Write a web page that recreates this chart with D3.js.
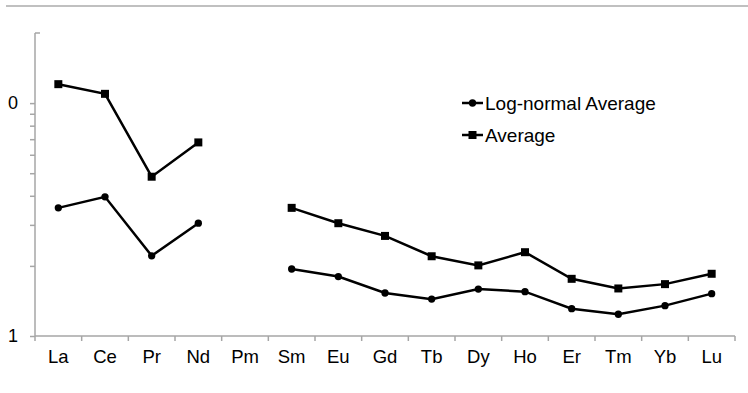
<!DOCTYPE html>
<html>
<head>
<meta charset="utf-8">
<script src="https://cdn.jsdelivr.net/npm/d3@7"></script>
<style>
  body { margin: 0; background: #fff; }
  text { font-family: "Liberation Sans", Arial, sans-serif; fill: #000; }
</style>
</head>
<body>
<svg id="chart" width="748" height="393"></svg>
<script>
// element categories (Pm has no data)
const elements = ['La', 'Ce', 'Pr', 'Nd', 'Pm', 'Sm', 'Eu', 'Gd', 'Tb', 'Dy', 'Ho', 'Er', 'Tm', 'Yb', 'Lu']
const average = [12.06, 10.96, 4.83, 6.78, null, 3.55, 3.05, 2.69, 2.20, 2.01, 2.29, 1.76, 1.60, 1.67, 1.85]
const logNormalAverage = [3.55, 3.96, 2.21, 3.05, null, 1.94, 1.80, 1.53, 1.44, 1.59, 1.55, 1.31, 1.24, 1.35, 1.52]
const yMinorTicks = [1, 2, 3, 4, 5, 6, 7, 8, 9, 10]
const yLabelValues = [1, 10]
const yLabelTexts = ['1', '0']
const seriesNames = ['Log-normal Average', 'Average']

const svg = d3.select('#chart')
const axisColor = '#a6a6a6'

// thin rule across the top
svg.append('line')
  .attr('x1', 6).attr('x2', 748).attr('y1', 6).attr('y2', 6)
  .attr('stroke', '#c0c0c0').attr('stroke-width', 2)

const x = d3.scaleBand().domain(elements).range([35, 735])
const y = d3.scaleLog().domain([1, 20]).range([336, 33])

// y axis (log, minor ticks, custom labels)
let yAxis = d3.axisLeft(y).tickValues(yMinorTicks).tickSize(5).tickFormat('')
let gy = svg.append('g').attr('transform', 'translate(35,0)').call(yAxis)
gy.select('.domain').attr('stroke', axisColor).attr('stroke-width', 1.5)
  .attr('d', `M0,${y(20)}V${y(1)}`)
gy.selectAll('.tick line').attr('stroke', axisColor).attr('stroke-width', 1.5)
svg.append('line')
  .attr('x1', 35).attr('x2', 40).attr('y1', y(20)).attr('y2', y(20))
  .attr('stroke', axisColor).attr('stroke-width', 1.5)

svg.selectAll('.ylab')
  .data(yLabelValues)
  .enter().append('text')
  .attr('class', 'ylab')
  .attr('x', 18)
  .attr('y', d => y(d))
  .attr('dy', '0.35em')
  .attr('text-anchor', 'end')
  .style('font-size', '18px')
  .text((d, i) => yLabelTexts[i])

// x axis with ticks between categories
let gx = svg.append('g').attr('transform', 'translate(0,336)')
gx.append('line')
  .attr('x1', 35).attr('x2', 735)
  .attr('stroke', axisColor).attr('stroke-width', 1.5)
gx.selectAll('.xt')
  .data(elements.concat(['end']))
  .enter().append('line')
  .attr('x1', (d, i) => 35 + i * x.step())
  .attr('x2', (d, i) => 35 + i * x.step())
  .attr('y1', 0).attr('y2', 5)
  .attr('stroke', axisColor).attr('stroke-width', 1.5)
gx.selectAll('.xlab')
  .data(elements)
  .enter().append('text')
  .attr('x', d => x(d) + x.bandwidth() / 2)
  .attr('y', 21)
  .attr('dy', '0.35em')
  .attr('text-anchor', 'middle')
  .style('font-size', '18.5px')
  .text(d => d)

const line = d3.line()
  .defined(d => d.v != null)
  .x(d => x(d.c) + x.bandwidth() / 2)
  .y(d => y(d.v))

function drawSeries(values, shape) {
  let pts = elements.map((c, i) => ({ c: c, v: values[i] }))
  svg.append('path')
    .datum(pts)
    .attr('fill', 'none')
    .attr('stroke', '#000')
    .attr('stroke-width', 2.5)
    .attr('d', line)
  let sym = d3.symbol().type(shape === 'square' ? d3.symbolSquare : d3.symbolCircle)
    .size(shape === 'square' ? 64 : 42)
  svg.selectAll('.m-' + shape)
    .data(pts.filter(d => d.v != null))
    .enter().append('path')
    .attr('transform', d => `translate(${x(d.c) + x.bandwidth() / 2},${y(d.v)})`)
    .attr('d', sym)
    .attr('fill', '#000')
}

drawSeries(logNormalAverage, 'circle')
drawSeries(average, 'square')

// legend
const legendY = [103, 135]
const shapes = ['circle', 'square']
seriesNames.forEach((name, i) => {
  let g = svg.append('g').attr('transform', `translate(462,${legendY[i]})`)
  g.append('line').attr('x1', 0).attr('x2', 21)
    .attr('stroke', '#000').attr('stroke-width', 2.5)
  g.append('path')
    .attr('transform', 'translate(10.5,0)')
    .attr('d', d3.symbol().type(shapes[i] === 'square' ? d3.symbolSquare : d3.symbolCircle)
      .size(shapes[i] === 'square' ? 64 : 42))
    .attr('fill', '#000')
  g.append('text')
    .attr('x', 23)
    .attr('dy', '0.35em')
    .style('font-size', '19px')
    .text(name)
})
</script>
</body>
</html>
